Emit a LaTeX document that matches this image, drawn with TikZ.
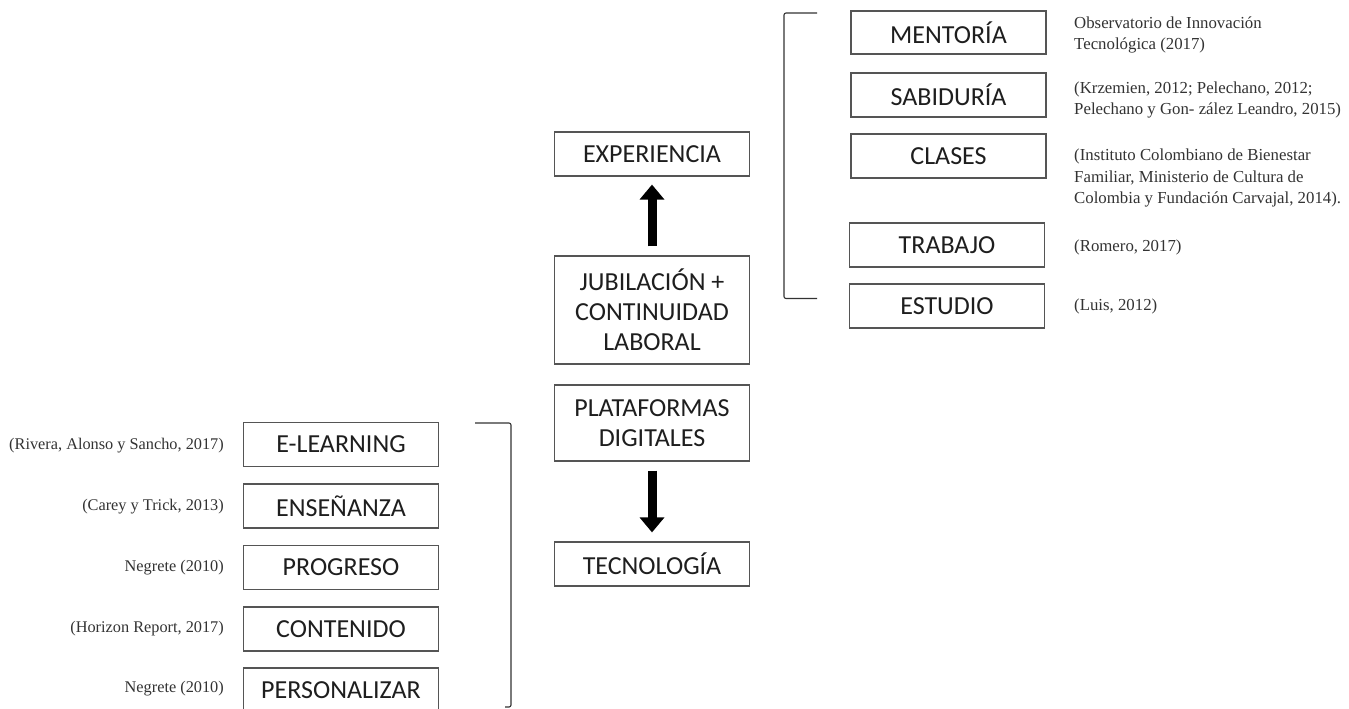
\documentclass[tikz,border=0pt]{standalone}
\usepackage{fontspec}
\setmainfont{Liberation Serif}
\newfontfamily\boxfont{Carlito}
\usetikzlibrary{arrows.meta}
\definecolor{boxline}{HTML}{555555}
\definecolor{brk}{HTML}{333333}
\definecolor{txt}{HTML}{1E1E1E}
\definecolor{citec}{HTML}{333333}
\begin{document}
\begin{tikzpicture}[x=1pt,y=-1pt,
  concept/.style={draw=boxline, line width=1.2pt, minimum width=195pt, minimum height=44pt,
    inner sep=0pt, align=center, text=txt, font=\boxfont\fontsize{26}{30}\selectfont},
  citer/.style={anchor=west, inner sep=0pt, align=left, text=citec,
    font=\fontsize{16.8}{21.5}\selectfont},
  citel/.style={anchor=east, inner sep=0pt, align=right, text=citec,
    font=\fontsize{16.3}{20}\selectfont},
  blockarrow/.style={line width=9pt, black, -{Triangle[width=24pt,length=15pt]}},
  bracket/.style={draw=brk, line width=1.1pt, rounded corners=2pt}
]
\clip (0,0) rectangle (1349,709);
\fill[white] (0,0) rectangle (1349,709);

% central column
\node[concept] (exp) at (652,154) {EXPERIENCIA};
\node[concept, minimum height=108pt] (jub) at (652,310) {JUBILACIÓN +\\CONTINUIDAD\\LABORAL};
\node[concept, minimum height=76pt] (plat) at (652,423) {PLATAFORMAS\\DIGITALES};
\node[concept] (tec) at (652,564) {TECNOLOGÍA};

\draw[blockarrow, shorten <=9pt, shorten >=8pt] (jub) -- (exp);
\draw[blockarrow, shorten <=9pt, shorten >=9pt] (plat) -- (tec);

% right group
\node[concept, minimum height=43pt] (ment) at (948.5,32.5) {MENTORÍA};
\node[concept] (sab) at (948.5,95) {SABIDURÍA};
\node[concept] (cla) at (948.5,156) {CLASES};
\node[concept] (tra) at (947,245) {TRABAJO};
\node[concept] (est) at (947,306) {ESTUDIO};

\node[citer] (c1) at (1074,35) {Observatorio de Innovación\\Tecnológica (2017)};
\node[citer] (c2) at (1074,100) {(Krzemien, 2012; Pelechano, 2012;\\Pelechano y Gon- zález Leandro, 2015)};
\node[citer] (c3) at (1074,178) {(Instituto Colombiano de Bienestar\\Familiar, Ministerio de Cultura de\\Colombia y Fundación Carvajal, 2014).};
\node[citer] (c4) at (1074,247) {(Romero, 2017)};
\node[citer] (c5) at (1074,306) {(Luis, 2012)};

\coordinate (rbt) at (817,13);
\coordinate (rbb) at (817,298.5);
\draw[bracket] (rbt) -- (784,13) -- (784,298.5) -- (rbb);

% left group
\node[concept] (elr) at (341,444.5) {E-LEARNING};
\node[concept] (ens) at (341,506) {ENSEÑANZA};
\node[concept] (pro) at (341,567.5) {PROGRESO};
\node[concept] (con) at (341,629) {CONTENIDO};
\node[concept] (per) at (341,690) {PERSONALIZAR};

\node[citel] (l1) at (224,446) {(Rivera, Alonso y Sancho, 2017)};
\node[citel] (l2) at (224,507) {(Carey y Trick, 2013)};
\node[citel] (l3) at (224,568) {Negrete (2010)};
\node[citel] (l4) at (224,629) {(Horizon Report, 2017)};
\node[citel] (l5) at (224,689) {Negrete (2010)};

\coordinate (lbt) at (475,423);
\coordinate (lbb) at (505,707);
\draw[bracket] (lbt) -- (511,423) -- (511,707) -- (lbb);
\end{tikzpicture}
\end{document}
